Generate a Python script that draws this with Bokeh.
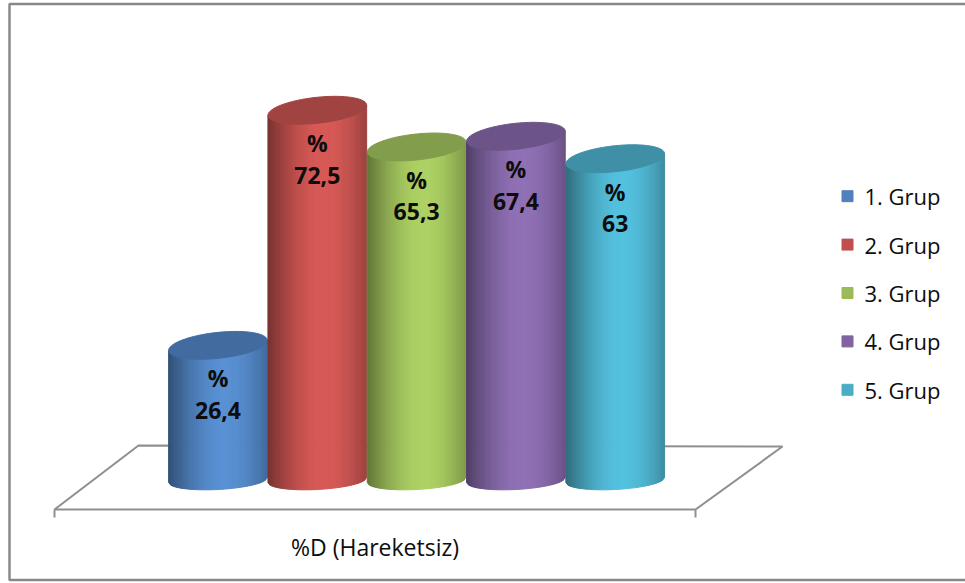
import math

from bokeh.core.properties import value
from bokeh.embed import file_html
from bokeh.models import Range1d
from bokeh.plotting import figure
from bokeh.resources import INLINE

# ---- data -------------------------------------------------------------
groups = ["1. Grup", "2. Grup", "3. Grup", "4. Grup", "5. Grup"]
percent = [26.4, 72.5, 65.3, 67.4, 63.0]
colors = ["#4F81BD", "#C0504D", "#9BBB59", "#8064A2", "#4BACC6"]
category = "%D (Hareketsiz)"

# ---- page / scene layout (screen pixels) --------------------------------
W, H = 965, 583
SLOT_PX = 99.3      # distance between neighbouring cylinder centres
FIRST_PX = 217.5    # screen x of the first cylinder centre
UNIT_PX = 5.1       # screen pixels per percentage point
BASE_PX = 479.5     # screen y (from top) of the 0 % level

RADIUS = 0.497                 # cylinder radius, in slot units
TOP_B = 13.0 / UNIT_PX         # half height of the top ellipse
TOP_SHEAR = 5.0 / UNIT_PX      # tilt of the top ellipse
BOT_B = 9.5 / UNIT_PX          # half height of the bottom ellipse
BOT_SHEAR = 2.5 / UNIT_PX      # tilt of the bottom ellipse
STRIPS = 48                    # vertical strips used for the side shading

FONT = value("Open Sans")


def sx(px):
    """screen x pixel -> data x"""
    return (px - FIRST_PX) / SLOT_PX


def sy(py):
    """screen y pixel (from top) -> data y"""
    return (BASE_PX - py) / UNIT_PX


def shade(hex_color, f):
    rgb = [int(hex_color[k:k + 2], 16) for k in (1, 3, 5)]
    return "#%02x%02x%02x" % tuple(max(0, min(255, int(round(c * f)))) for c in rgb)


def light(u):
    # brightness across the cylinder: dark rims, highlight right of centre
    t = max(-1.0, min(1.0, (u - 0.15) / 1.15))
    return 0.62 + 0.5 * math.cos(t * math.pi / 2)


p = figure(
    width=W, height=H,
    x_range=Range1d(sx(0), sx(W)),
    y_range=Range1d(sy(H), sy(0)),
    output_backend="svg", toolbar_location=None,
    min_border=0, background_fill_color="white", border_fill_color="white",
)
p.axis.visible = False
p.grid.visible = False
p.outline_line_color = None

# ---- chart border --------------------------------------------------------
p.line([sx(1200), sx(9), sx(9), sx(1200)], [sy(3.5), sy(3.5), sy(579.5), sy(579.5)],
       line_color="#898989", line_width=2.5)

# ---- floor -------------------------------------------------------------
floor_x = [sx(138), sx(782), sx(695), sx(54)]
floor_y = [sy(445), sy(446), sy(509), sy(509)]
p.patch(floor_x, floor_y, fill_color="white", line_color="#8f8f8f", line_width=2)
p.segment(x0=[sx(54), sx(695)], y0=[sy(509), sy(509)],
          x1=[sx(54), sx(695)], y1=[sy(517), sy(517)],
          line_color="#8f8f8f", line_width=2)

# ---- cylinders ---------------------------------------------------------
for i, (v, c) in enumerate(zip(percent, colors)):
    xs, ys, fills = [], [], []
    for j in range(STRIPS):
        ua = -1 + 2 * j / STRIPS
        ub = -1 + 2 * (j + 1) / STRIPS
        xa, xb = i + RADIUS * ua, i + RADIUS * ub
        ba = BOT_SHEAR * ua - BOT_B * math.sqrt(max(0.0, 1 - ua * ua))
        bb = BOT_SHEAR * ub - BOT_B * math.sqrt(max(0.0, 1 - ub * ub))
        ta = v + TOP_SHEAR * ua
        tb = v + TOP_SHEAR * ub
        xs.append([xa, xb, xb, xa])
        ys.append([ba, bb, tb, ta])
        fills.append(shade(c, light((ua + ub) / 2)))
    p.patches(xs, ys, fill_color=fills, line_color=fills, line_width=1)

    ts = [2 * math.pi * k / 96 for k in range(96)]
    top_x = [i + RADIUS * math.cos(t) for t in ts]
    top_y = [v + TOP_SHEAR * math.cos(t) + TOP_B * math.sin(t) for t in ts]
    top_col = shade(c, 0.84)
    p.patch(top_x, top_y, fill_color=top_col, line_color=top_col, line_width=1)

# ---- value labels ------------------------------------------------------
idx = list(range(len(percent)))
labels = [f"{v:g}".replace(".", ",") for v in percent]
p.text(x=idx, y=[v - 33 / UNIT_PX for v in percent], text=["%"] * len(percent),
       text_font=FONT, text_font_size=value("23px"), text_font_style="bold",
       text_color="#0d0d0d", text_align="center", text_baseline="middle")
p.text(x=idx, y=[v - 65 / UNIT_PX for v in percent], text=labels,
       text_font=FONT, text_font_size=value("23px"), text_font_style="bold",
       text_color="#0d0d0d", text_align="center", text_baseline="middle")

# ---- category label ----------------------------------------------------
p.text(x=[(floor_x[2] + floor_x[3]) / 2], y=[sy(546)], text=[category],
       text_font=FONT, text_font_size=value("23px"), text_color="#0d0d0d",
       text_align="center", text_baseline="middle")

# ---- legend ------------------------------------------------------------
leg_y = [sy(195.7 + 48.4 * k) for k in range(len(groups))]
p.scatter(x=[sx(847)] * len(groups), y=leg_y, marker="square", size=11,
          fill_color=colors, line_color=colors)
p.text(x=[sx(864)] * len(groups), y=leg_y, text=groups,
       text_font=FONT, text_font_size=value("22px"), text_color="#0d0d0d",
       text_align="left", text_baseline="middle")

open("out.html", "w").write(file_html(p, INLINE))
